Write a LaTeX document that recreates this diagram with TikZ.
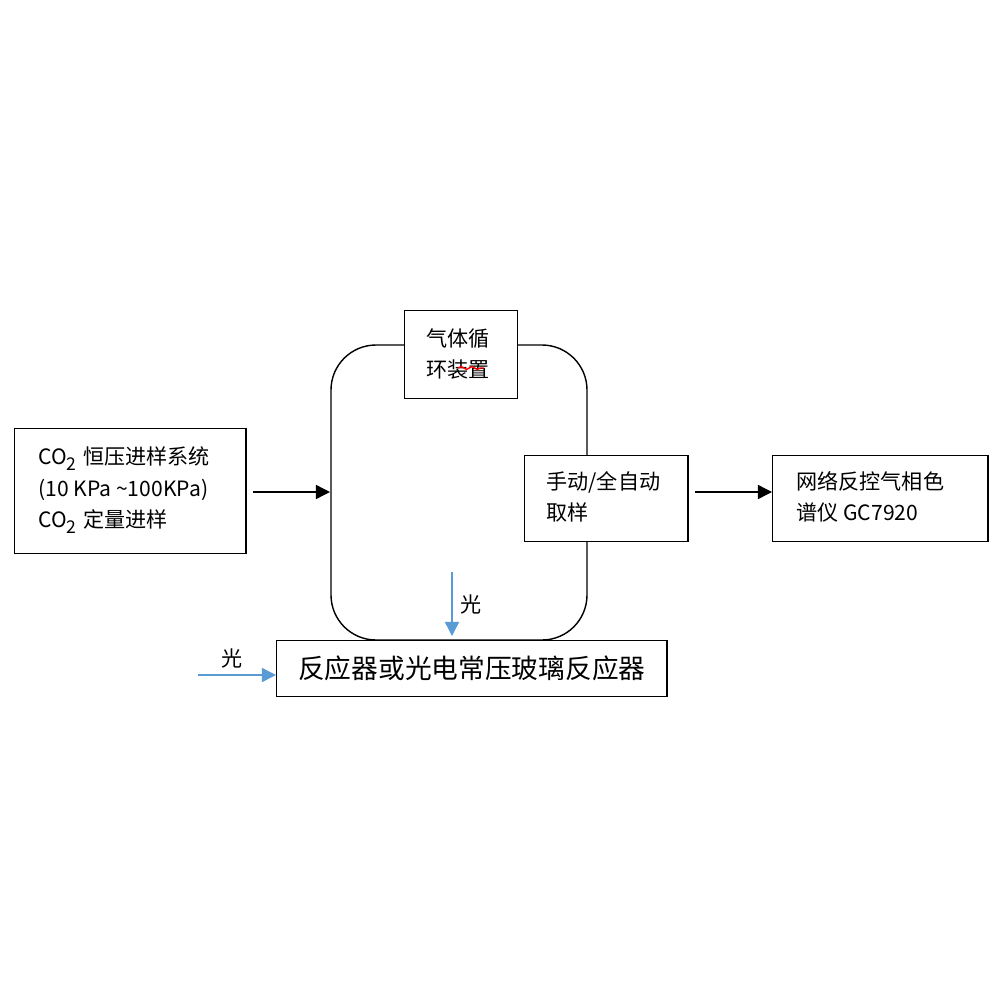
\documentclass[tikz,border=0pt]{standalone}
\usepackage{fontspec}
\setmainfont{Noto Sans CJK SC}
\usetikzlibrary{arrows.meta,decorations.pathmorphing}
\begin{document}
\begin{tikzpicture}[x=0.01cm,y=-0.01cm,
  box/.style={draw,thin,fill=white,inner sep=0pt},
  lbl/.style={font=\fontsize{6pt}{9pt}\selectfont,align=left,anchor=west},
  blk/.style={-{Triangle[length=4pt,width=4pt]},thin},
  blu/.style={-{Triangle[length=4pt,width=4pt]},thin,draw={rgb,255:red,91;green,155;blue,213},fill={rgb,255:red,91;green,155;blue,213}}]
\useasboundingbox (0,0) rectangle (1000,1000);
\draw[thin,rounded corners=0.45cm] (331,345) rectangle (587,640);
\node[box,minimum width=2.31cm,minimum height=1.25cm,anchor=north west] (left) at (14,428) {};
\node[lbl,anchor=west] (lt) at (26,490) {CO\textsubscript{2} 恒压进样系统\\(10 KPa \textasciitilde100KPa)\\CO\textsubscript{2} 定量进样};
\node[box,minimum width=1.13cm,minimum height=0.88cm,anchor=north west] (top) at (404,310) {};
\node[lbl] (tt) at (414,354) {气体循\\环装置};
\draw[red,decorate,decoration={snake,amplitude=0.4pt,segment length=3pt}] (458,368) -- (484,368);
\node[box,minimum width=1.63cm,minimum height=0.86cm,anchor=north west] (mid) at (524,455) {};
\node[lbl] (mt) at (534,497) {手动/全自动\\取样};
\node[box,minimum width=2.15cm,minimum height=0.86cm,anchor=north west] (right) at (772,455) {};
\node[lbl] (rt) at (784,497) {网络反控气相色\\谱仪 GC7920};
\node[box,minimum width=3.9cm,minimum height=0.56cm,anchor=north west,font=\fontsize{7.6pt}{10pt}\selectfont] (bot) at (276,640) {反应器或光电常压玻璃反应器};
\coordinate (a1) at (253,492); \coordinate (a2) at (330,492);
\draw[blk] (a1) -- (a2);
\coordinate (b1) at (695,492);
\draw[blk] (b1) -- (right.west |- b1);
\coordinate (c1) at (452,572); \coordinate (c2) at (452,636);
\draw[blu] (c1) -- (c2);
\node[font=\fontsize{6pt}{8pt}\selectfont] (l1) at (471,604) {光};
\coordinate (d1) at (198,675);
\draw[blu] (d1) -- (bot.west |- d1);
\node[font=\fontsize{6pt}{8pt}\selectfont] (l2) at (232,658) {光};
\end{tikzpicture}
\end{document}
